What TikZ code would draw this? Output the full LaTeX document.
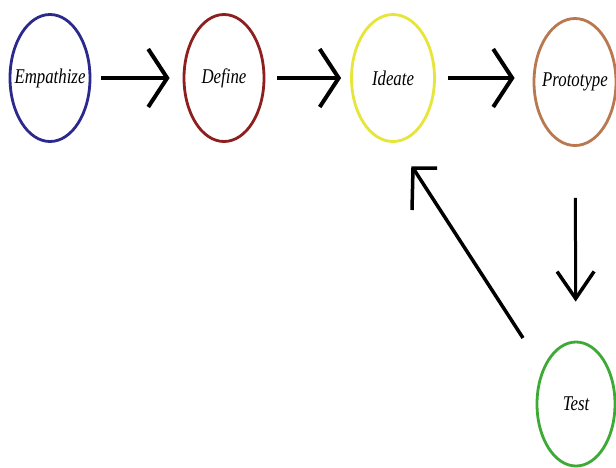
\documentclass[tikz,border=0pt]{standalone}
\usepackage{fontspec}
\setmainfont{Liberation Serif}
\usetikzlibrary{shapes.geometric,arrows.meta}
\definecolor{cEmp}{HTML}{2B2A8C}
\definecolor{cDef}{HTML}{8E1F1F}
\definecolor{cIde}{HTML}{E6E63A}
\definecolor{cPro}{HTML}{B9784F}
\definecolor{cTes}{HTML}{3DAA35}
\newcommand{\phasetext}[1]{\makebox[0pt]{\scalebox{0.8}[1]{#1}}}
\tikzset{
  phase/.style={ellipse, draw, line width=2.8pt, fill=white, inner sep=0pt,
    minimum width=80pt, minimum height=127pt,
    font=\fontsize{21}{23}\selectfont\itshape},
  flowarrow/.style={line width=4.5pt, -{Straight Barb[length=19pt,width=58pt,line width=4pt]}},
  downarrow/.style={line width=3pt, -{Straight Barb[length=27pt,width=37pt,line width=3.5pt]}},
  backline/.style={line width=3.5pt, line join=miter}
}
\begin{document}
\begin{tikzpicture}[x=1pt,y=-1pt]
\useasboundingbox (0,0) rectangle (616,467);
\node[phase, draw=cEmp] (E) at (50,78) {\phasetext{Empathize}};
\node[phase, draw=cDef] (D) at (224,78) {\phasetext{Define}};
\node[phase, draw=cIde, minimum width=83pt] (I) at (393,78) {\phasetext{Ideate}};
\node[phase, draw=cPro, minimum width=82pt] (P) at (575,82) {\phasetext{Prototype}};
\node[phase, draw=cTes, minimum width=78pt, minimum height=124pt] (T) at (576,404) {\phasetext{Test}};
\draw[flowarrow, shorten <=10pt, shorten >=13pt] (E) -- (D);
\draw[flowarrow, shorten <=12pt, shorten >=9pt] (D) -- (I);
\draw[flowarrow, shorten <=12pt, shorten >=18pt] (I.east) -- (I.east -| P.west);
\draw[downarrow, shorten <=51pt, shorten >=39pt] (P) -- (T);
\coordinate (fbStart) at (523,338);
\coordinate (fbTip) at (413,168);
\draw[backline] (fbStart) -- (fbTip);
\draw[backline] (437,168) -- (fbTip) -- (412,210);
\end{tikzpicture}
\end{document}
